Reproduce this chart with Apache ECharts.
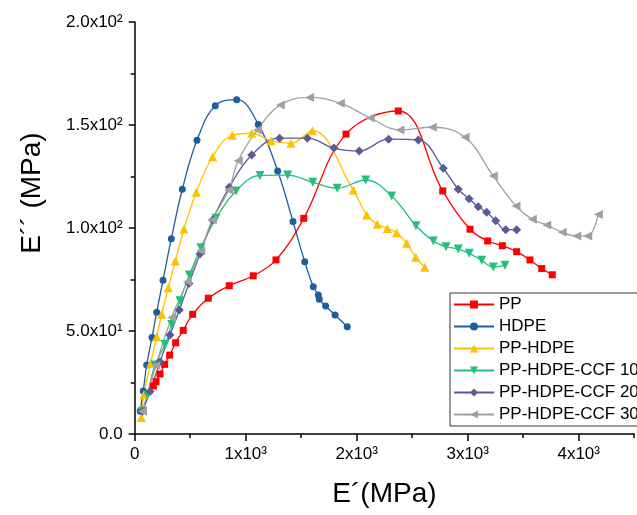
<!DOCTYPE html>
<html>
<head>
<meta charset="utf-8">
<script src="https://cdn.jsdelivr.net/npm/echarts@6/dist/echarts.min.js"></script>
<style>
html,body{margin:0;padding:0;background:#fff;}
#chart{width:637px;height:515px;}
</style>
</head>
<body>
<div id="chart"></div>
<script>
// Series names
const seriesNames = ['PP', 'HDPE', 'PP-HDPE', 'PP-HDPE-CCF 10', 'PP-HDPE-CCF 20', 'PP-HDPE-CCF 30'];

// [E' (MPa), E'' (MPa)] pairs
const PP = [[168,23.3],[192,25.4],[228,29.1],[270,33.8],[315,38.3],[369,44.3],[437,50.3],[522,58.1],[663,65.9],[852,72.0],[1068,76.8],[1273,84.5],[1523,104.7],[1904,145.6],[2375,156.8],[2775,118.0],[3021,99.4],[3180,93.7],[3312,91.4],[3441,88.5],[3561,84.5],[3667,80.3],[3762,77.3]];
const HDPE = [[50,11],[77,20.9],[108,33.5],[156,46.9],[198,59.1],[255,74.6],[330,94.8],[429,118.8],[561,142.6],[726,159.4],[919,162.3],[1114,150.3],[1288,127.7],[1426,103.1],[1532,83.6],[1609,71.5],[1654,67.5],[1663,65.4],[1720,62.1],[1805,57.8],[1915,52.1]];
const PP_HDPE = [[60,8],[84,19.3],[144,34.3],[198,47.2],[243,58.1],[303,71.0],[366,84.0],[444,99.5],[555,117.3],[702,134.6],[879,145.0],[1054,146.0],[1228,142.4],[1408,141.1],[1600,147.2],[1969,118.4],[2090,106.3],[2186,101.8],[2276,99.8],[2360,97.7],[2450,92.6],[2532,85.8],[2613,80.9]];
const CCF10 = [[70,11],[114,18.9],[183,33.5],[273,43.5],[333,53.2],[408,64.7],[492,77.2],[597,90.4],[732,104.7],[913,118.0],[1129,125.5],[1378,125.7],[1604,122.2],[1825,119.3],[2081,123.3],[2315,115.5],[2534,101.1],[2690,93.7],[2805,90.9],[2915,89.8],[3014,87.7],[3126,84.3],[3231,81.1],[3336,81.9]];
const CCF20 = [[70,11],[138,20.6],[228,35.1],[318,48.1],[402,60.2],[489,73.1],[588,87.4],[702,103.9],[852,119.8],[1054,135.4],[1305,143.6],[1555,143.6],[1795,138.8],[2023,137.4],[2287,143.1],[2555,142.7],[2780,129.0],[2915,118.8],[3012,114.2],[3095,110.3],[3171,107.6],[3252,103.5],[3342,99.2],[3441,99.2]];
const CCF30 = [[70,11],[190,33.2],[333,56.6],[474,73.9],[595,89.0],[699,103.9],[847,118.4],[933,132.7],[1105,147.6],[1312,159.7],[1576,163.4],[1853,160.6],[2123,153.4],[2390,147.6],[2681,148.9],[2976,144.0],[3231,125.2],[3435,110.7],[3582,104.2],[3712,101.5],[3852,97.9],[3982,96.1],[4081,96.1],[4177,106.6]];

// Tick values and labels
const xTickValues = [0, 1000, 2000, 3000, 4000];
const xTickLabels = ['0', '1x10³', '2x10³', '3x10³', '4x10³'];
const xMinorTickValues = [500, 1500, 2500, 3500, 4500];
const yTickValues = [0, 50, 100, 150, 200];
const yTickLabels = ['0.0', '5.0x10¹', '1.0x10²', '1.5x10²', '2.0x10²'];

const colors = ['#FF0000', '#1C5E9E', '#FFC000', '#22C07C', '#5B5B9B', '#A0A0A0'];
const symbols = ['rect', 'circle', 'triangle', 'triangle', 'diamond', 'triangle'];
const symbolRotates = [0, 0, 0, 180, 0, 90];
const symbolSizes = [7, 7, 9, 9, 9, 9];
const datasets = [PP, HDPE, PP_HDPE, CCF10, CCF20, CCF30];

const FONT = 'Liberation Sans, Arial, sans-serif';

const chart = echarts.init(document.getElementById('chart'), null, {renderer: 'canvas'});

function labelFor(values, labels) {
  return function (v) {
    const i = values.indexOf(v);
    return i >= 0 ? labels[i] : '';
  };
}

const option = {
  animation: false,
  backgroundColor: '#fff',
  grid: {left: 134.7, top: 22, bottom: 81, right: 2.8, containLabel: false},
  xAxis: [{
    type: 'value', min: 0, max: 4500, interval: 1000,
    position: 'bottom',
    name: 'E´(MPa)', nameLocation: 'middle', nameGap: 46,
    nameTextStyle: {fontFamily: FONT, fontSize: 28, color: '#000'},
    axisLine: {lineStyle: {color: '#000', width: 1.5}},
    axisTick: {inside: false, length: 7, customValues: xTickValues, lineStyle: {color: '#000', width: 1.5}},
    minorTick: {show: false},
    splitLine: {show: false},
    axisLabel: {fontFamily: FONT, fontSize: 17, color: '#000', margin: 12, customValues: xTickValues, formatter: labelFor(xTickValues, xTickLabels)}
  }, {
    type: 'value', min: 0, max: 4500,
    position: 'bottom', offset: 0,
    axisLine: {show: false},
    axisTick: {show: true, inside: false, length: 4, customValues: xMinorTickValues, lineStyle: {color: '#000', width: 1.5}},
    axisLabel: {show: false},
    splitLine: {show: false}
  }],
  yAxis: {
    type: 'value', min: 0, max: 200, interval: 50,
    name: 'E´´ (MPa)', nameLocation: 'middle', nameGap: 88, nameRotate: 90,
    nameTextStyle: {fontFamily: FONT, fontSize: 28, color: '#000', padding: [0, 0, 0, 70]},
    axisLine: {show: true, lineStyle: {color: '#000', width: 1.5}},
    axisTick: {show: true, inside: false, length: 6, lineStyle: {color: '#000', width: 1.5}},
    minorTick: {show: true, splitNumber: 2, length: 4, lineStyle: {color: '#000', width: 1.5}},
    splitLine: {show: false},
    axisLabel: {fontFamily: FONT, fontSize: 17, color: '#000', margin: 12, formatter: labelFor(yTickValues, yTickLabels)}
  },
  legend: {
    orient: 'vertical', left: 450, top: 293,
    padding: [3, 40, 3, 3],
    borderColor: '#333', borderWidth: 1,
    itemWidth: 40, itemHeight: 10, itemGap: 5,
    textStyle: {fontFamily: FONT, fontSize: 17, color: '#000', lineHeight: 17},
    data: seriesNames
  },
  series: seriesNames.map((name, i) => ({
    name: name,
    type: 'line',
    xAxisIndex: 0,
    smooth: 0.4,
    data: datasets[i],
    symbol: symbols[i],
    symbolRotate: symbolRotates[i],
    symbolSize: symbolSizes[i],
    showAllSymbol: true,
    clip: true,
    color: colors[i],
    lineStyle: {color: colors[i], width: 1.3},
    itemStyle: {color: colors[i], borderWidth: 0}
  }))
};
chart.setOption(option);
</script>
</body>
</html>
